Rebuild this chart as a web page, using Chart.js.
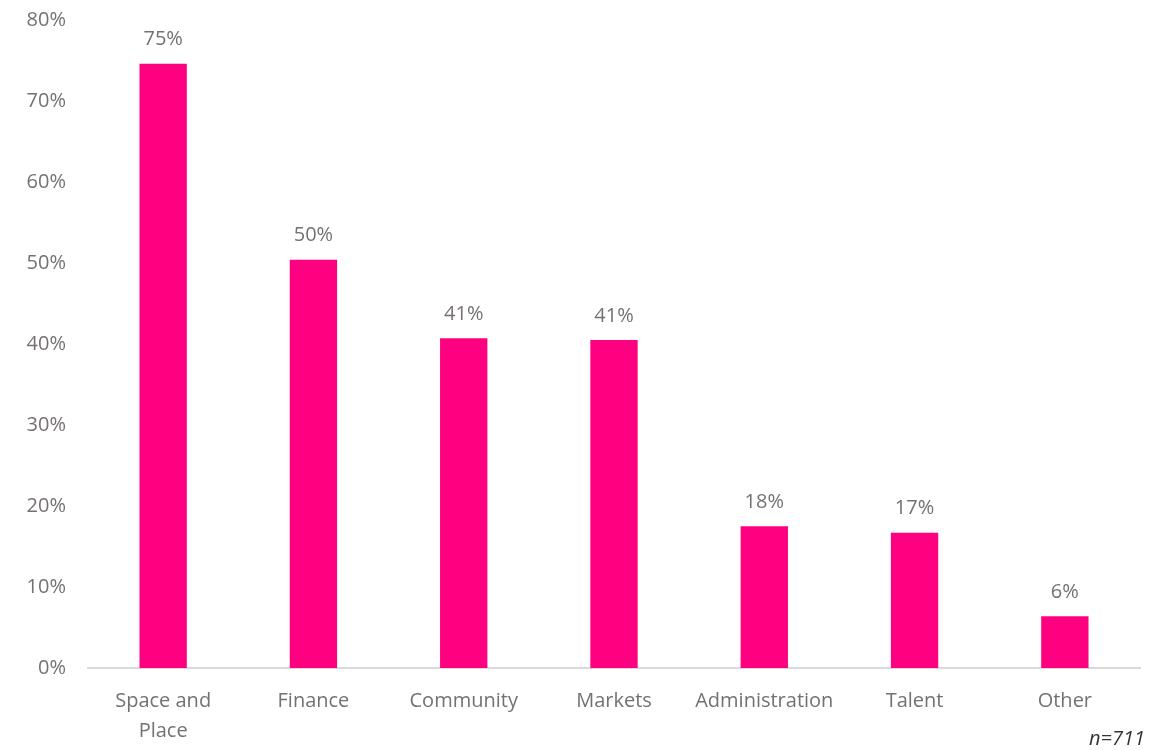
<!DOCTYPE html>
<html>
<head>
<meta charset="utf-8">
<script src="https://cdn.jsdelivr.net/npm/chart.js@4"></script>
<style>
  html, body { margin: 0; padding: 0; background: #fff; }
  #wrap { position: relative; width: 1162px; height: 750px; }
</style>
</head>
<body>
<div id="wrap"><canvas id="barChart"></canvas></div>
<script>
// Categories and shares (percent)
const categories = [['Space and', 'Place'], 'Finance', 'Community', 'Markets', 'Administration', 'Talent', 'Other'];
const shares = [74.6, 50.4, 40.7, 40.5, 17.5, 16.7, 6.4];
const yTicks = [0, 10, 20, 30, 40, 50, 60, 70, 80];
const sampleNote = 'n=711';

const textColor = '#767171';
const fontFamily = '"Open Sans", "Noto Sans", sans-serif';

// Value labels above each bar
const valueLabels = {
    id: 'valueLabels',
    afterDatasetsDraw(chart) {
        const ctx = chart.ctx;
        const meta = chart.getDatasetMeta(0);
        ctx.save();
        ctx.fillStyle = textColor;
        ctx.font = '20px ' + fontFamily;
        ctx.textAlign = 'center';
        ctx.textBaseline = 'middle';
        meta.data.forEach((bar, i) => {
            ctx.fillText(Math.round(shares[i]) + '%', bar.x, bar.y - 24);
        });
        ctx.restore();
    }
};

// Sample size note in the bottom right corner
const noteLabel = {
    id: 'noteLabel',
    afterDraw(chart) {
        const ctx = chart.ctx;
        ctx.save();
        ctx.fillStyle = '#333';
        ctx.font = 'italic 20px ' + fontFamily;
        ctx.textAlign = 'right';
        ctx.textBaseline = 'middle';
        ctx.fillText(sampleNote, 1145, 739);
        ctx.restore();
    }
};

const barCtx = document.getElementById('barChart').getContext('2d');
const barChart = new Chart(barCtx, {
    type: 'bar',
    data: {
        labels: categories,
        datasets: [{
            data: shares,
            backgroundColor: '#FF0080',
            categoryPercentage: 1,
            barPercentage: 0.315
        }]
    },
    options: {
        responsive: true,
        maintainAspectRatio: false,
        animation: false,
        layout: { padding: { top: 20, right: 22, left: 0, bottom: 0 } },
        plugins: {
            legend: { display: false },
            tooltip: { enabled: false }
        },
        scales: {
            x: {
                grid: { display: false },
                border: { color: '#d9d9d9', width: 2 },
                ticks: {
                    color: textColor,
                    font: { family: fontFamily, size: 20, lineHeight: 1.5 },
                    padding: 10,
                    maxRotation: 0,
                    autoSkip: false
                },
                afterFit(scale) { scale.height = 82; }
            },
            y: {
                min: 0,
                max: 80,
                grid: { display: false },
                border: { display: false },
                afterBuildTicks(scale) {
                    scale.ticks = yTicks.map(v => ({ value: v }));
                },
                ticks: {
                    color: textColor,
                    font: { family: fontFamily, size: 20 },
                    padding: 14,
                    callback: v => v + '%'
                },
                afterFit(scale) {
                    scale.width = 88;
                    // let the top padding come from the layout only
                    scale.paddingTop = 0;
                }
            }
        }
    },
    plugins: [valueLabels, noteLabel]
});
</script>
</body>
</html>
